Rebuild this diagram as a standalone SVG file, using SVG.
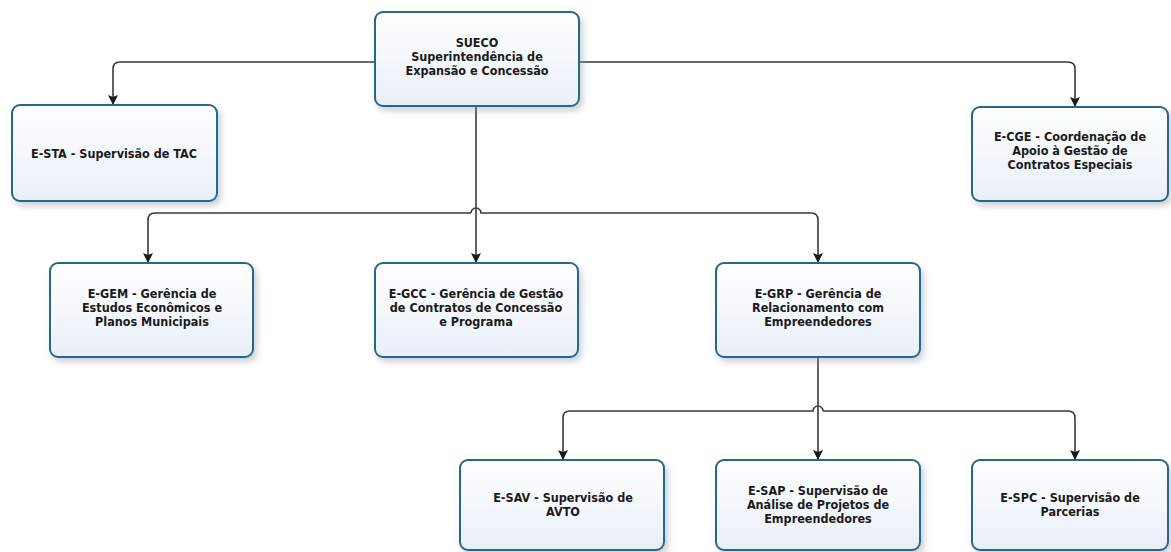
<svg xmlns="http://www.w3.org/2000/svg" width="1171" height="552" viewBox="0 0 1171 552">
  <defs>
    <linearGradient id="boxFill" x1="0" y1="0" x2="0" y2="1">
      <stop offset="0" stop-color="#ffffff"/>
      <stop offset="1" stop-color="#e9eff9"/>
    </linearGradient>
    <filter id="shadow" x="-10%" y="-10%" width="125%" height="130%">
      <feDropShadow dx="3" dy="4" stdDeviation="3" flood-color="#8a9aa8" flood-opacity="0.45"/>
    </filter>
    <marker id="tip" viewBox="0 0 10 10" refX="10" refY="5" markerWidth="10" markerHeight="10" markerUnits="userSpaceOnUse" orient="auto">
      <path d="M0,0 L10,5 L0,10 L2,5 Z" fill="#1a1a1a"/>
    </marker>
  </defs>
  <style>
    .box { fill: url(#boxFill); stroke: #2a6688; stroke-width: 2; filter: url(#shadow); }
    .lbl { font-family: "DejaVu Sans Condensed", "DejaVu Sans", "Liberation Sans", sans-serif; font-stretch: condensed; font-weight: bold; font-size: 12.5px; fill: #1a1a1a; text-anchor: middle; letter-spacing: 0px; }
    .conn { fill: none; stroke: #3a3a3a; stroke-width: 1.6; marker-end: url(#tip); }
  </style>

  <rect width="1171" height="552" fill="#ffffff"/>

  <!-- connectors -->
  <g id="connectors">
    <path class="conn" d="M375,62 H120 Q113,62 113,69 V105"/>
    <path class="conn" d="M579,62 H1068 Q1075,62 1075,69 V107"/>
    <path class="conn" d="M476,106 V263"/>
    <path class="conn" d="M471,213 H155 Q148,213 148,220 V263"/>
    <path class="conn" d="M471,213 A5,5 0 0 1 481,213 H811 Q818,213 818,220 V263"/>
    <path class="conn" d="M818,357 V460"/>
    <path class="conn" d="M823,411 A5,5 0 0 0 813,411 H570 Q563,411 563,418 V460"/>
    <path class="conn" d="M823,411 H1068 Q1075,411 1075,418 V460"/>
  </g>

  <g id="sueco">
    <rect class="box" x="375" y="12" width="204" height="94" rx="8"/>
    <text class="lbl" x="477" y="47">SUECO</text>
    <text class="lbl" x="477" y="61">Superintendência de</text>
    <text class="lbl" x="477" y="75">Expansão e Concessão</text>
  </g>

  <g id="e-sta">
    <rect class="box" x="12" y="105" width="205" height="96" rx="8"/>
    <text class="lbl" x="114" y="158">E-STA - Supervisão de TAC</text>
  </g>

  <g id="e-cge">
    <rect class="box" x="972" y="107" width="196" height="94" rx="8"/>
    <text class="lbl" x="1070" y="141">E-CGE - Coordenação de</text>
    <text class="lbl" x="1070" y="155">Apoio à Gestão de</text>
    <text class="lbl" x="1070" y="169">Contratos Especiais</text>
  </g>

  <g id="e-gem">
    <rect class="box" x="50" y="263" width="203" height="94" rx="8"/>
    <text class="lbl" x="152" y="298">E-GEM - Gerência de</text>
    <text class="lbl" x="152" y="312">Estudos Econômicos e</text>
    <text class="lbl" x="152" y="326">Planos Municipais</text>
  </g>

  <g id="e-gcc">
    <rect class="box" x="375" y="263" width="203" height="94" rx="8"/>
    <text class="lbl" x="476" y="298">E-GCC - Gerência de Gestão</text>
    <text class="lbl" x="476" y="312">de Contratos de Concessão</text>
    <text class="lbl" x="476" y="326">e Programa</text>
  </g>

  <g id="e-grp">
    <rect class="box" x="716" y="263" width="204" height="94" rx="8"/>
    <text class="lbl" x="818" y="298">E-GRP - Gerência de</text>
    <text class="lbl" x="818" y="312">Relacionamento com</text>
    <text class="lbl" x="818" y="326">Empreendedores</text>
  </g>

  <g id="e-sav">
    <rect class="box" x="460" y="460" width="204" height="90" rx="8"/>
    <text class="lbl" x="563" y="502">E-SAV - Supervisão de</text>
    <text class="lbl" x="563" y="516">AVTO</text>
  </g>

  <g id="e-sap">
    <rect class="box" x="716" y="460" width="204" height="90" rx="8"/>
    <text class="lbl" x="818" y="495">E-SAP - Supervisão de</text>
    <text class="lbl" x="818" y="509">Análise de Projetos de</text>
    <text class="lbl" x="818" y="523">Empreendedores</text>
  </g>

  <g id="e-spc">
    <rect class="box" x="972" y="460" width="196" height="90" rx="8"/>
    <text class="lbl" x="1070" y="502">E-SPC - Supervisão de</text>
    <text class="lbl" x="1070" y="516">Parcerias</text>
  </g>
</svg>
